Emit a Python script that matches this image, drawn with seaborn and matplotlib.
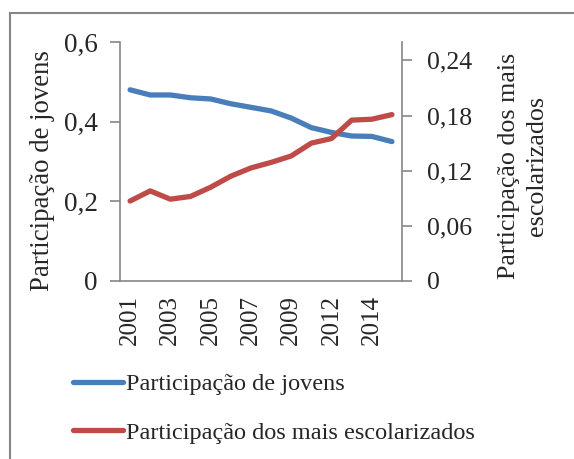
import matplotlib
matplotlib.use("Agg")
import matplotlib.pyplot as plt
import matplotlib.patches as patches
import seaborn as sns
import pandas as pd

sns.set_style("white")
plt.rcParams["font.family"] = ["Liberation Serif", "DejaVu Serif"]

# === Data ===
years = ["2001", "2002", "2003", "2004", "2005", "2006", "2007",
         "2008", "2009", "2011", "2012", "2013", "2014", "2015"]
jovens = [0.480, 0.467, 0.467, 0.460, 0.457, 0.445, 0.436,
          0.427, 0.409, 0.385, 0.373, 0.364, 0.363, 0.350]
escolarizados = [0.087, 0.098, 0.089, 0.092, 0.102, 0.114, 0.123,
                 0.129, 0.136, 0.150, 0.155, 0.175, 0.176, 0.181]
left_ticks = [0, 0.2, 0.4, 0.6]
left_labels = ["0", "0,2", "0,4", "0,6"]
right_ticks = [0, 0.06, 0.12, 0.18, 0.24]
right_labels = ["0", "0,06", "0,12", "0,18", "0,24"]

df = pd.DataFrame({"ano": years, "jovens": jovens, "escol": escolarizados})

BLUE = "#4A7EBB"
RED = "#BE4B48"
GRAY = "#868686"
FS_LEG = 17.5
FS_X = 18
FS_LEFT = 19.5
FS_RIGHT = 18.5
FS_YL = 19.3
FS_YR = 18.7

fig = plt.figure(figsize=(5.74, 4.59), dpi=100)
ax = fig.add_axes([120 / 574, 1 - 281 / 459, 282 / 574, 239 / 459])
ax2 = ax.twinx()

sns.lineplot(data=df, x="ano", y="jovens", ax=ax, color=BLUE, linewidth=3.8,
             label="Participação de jovens", legend=False)
sns.lineplot(data=df, x="ano", y="escol", ax=ax2, color=RED, linewidth=3.8,
             label="Participação dos mais escolarizados", legend=False)

n = len(years)
ax.set_xlim(-0.5, n - 0.5)
ax.set_ylim(0, 0.6)
ax2.set_ylim(0, 0.26)

# category boundaries as major ticks, labels on every other category
ax.set_xticks([i - 0.5 for i in range(n + 1)])
ax.set_xticklabels([""] * (n + 1))
ax.set_xticks(list(range(0, n, 2)), minor=True)
ax.set_xticklabels(years[::2], minor=True, rotation=90, fontsize=FS_X)
ax.tick_params(axis="x", which="major", length=6, width=1.2, color=GRAY, direction="out")
ax.tick_params(axis="x", which="minor", length=0, pad=10)

ax.set_yticks(left_ticks)
ax.set_yticklabels(left_labels, fontsize=FS_LEFT)
ax.tick_params(axis="y", length=7, width=1.2, color=GRAY, pad=9, direction="out")
ax2.set_yticks(right_ticks)
ax2.set_yticklabels(right_labels, fontsize=FS_RIGHT)
ax2.tick_params(axis="y", length=7, width=1.2, color=GRAY, pad=11, direction="out")

for a in (ax, ax2):
    a.set_xlabel("")
    a.spines["top"].set_visible(False)
    for s in ("left", "right", "bottom"):
        a.spines[s].set_color(GRAY)
        a.spines[s].set_linewidth(1.2)
ax.spines["right"].set_visible(False)
ax2.spines["left"].set_visible(False)
ax2.spines["bottom"].set_visible(False)

ax.set_ylabel("Participação de jovens", fontsize=FS_YL)
ax.yaxis.set_label_coords(-0.232, 0.46)
ax2.set_ylabel("Participação dos mais\nescolarizados", fontsize=FS_YR,
               multialignment="center", linespacing=1.33)
ax2.yaxis.set_label_coords(1.342, 0.481)

handles = ax.get_lines()[:1] + ax2.get_lines()[:1]
fig.legend(handles, [h.get_label() for h in handles], loc="upper left",
           bbox_to_anchor=(73 / 574, 1 - 373 / 459), frameon=False, fontsize=FS_LEG,
           handlelength=2.05, handletextpad=0.15, labelspacing=1.1,
           borderpad=0, borderaxespad=0)

# chart-area frame (only left and top edges visible in the crop)
fig.patches.append(patches.Rectangle((10 / 574, -0.1), 1.0, 1 - 13 / 459 + 0.1,
                                     transform=fig.transFigure, fill=False,
                                     edgecolor=GRAY, linewidth=1.5))

fig.savefig("out.png", dpi=100)
